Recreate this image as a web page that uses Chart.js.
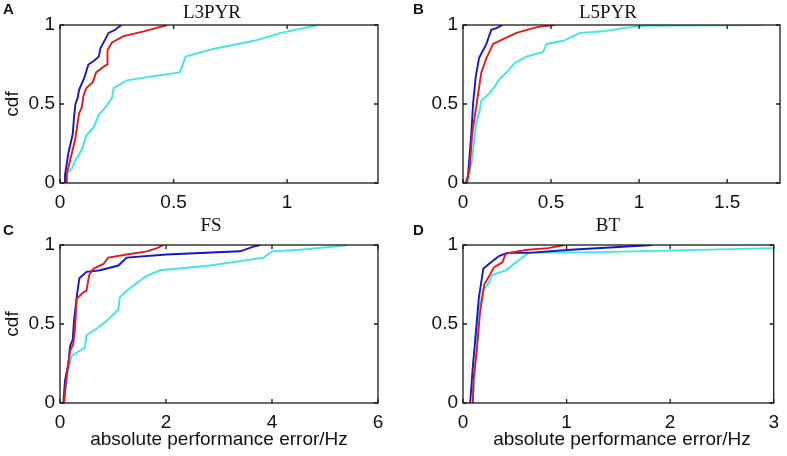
<!DOCTYPE html>
<html>
<head>
<meta charset="utf-8">
<script src="https://cdn.jsdelivr.net/npm/chart.js@4/dist/chart.umd.min.js"></script>
<style>
  body { margin: 0; background: #fff; }
  #wrap { position: relative; width: 787px; height: 456px; overflow: hidden; font-family: "Liberation Sans", Arial, sans-serif; }
  canvas { position: absolute; }
  .letter { position: absolute; font: bold 15px "Liberation Sans", Arial, sans-serif; line-height: 15px; color: #111; }
  .title { position: absolute; width: 200px; text-align: center; font: 19px "Liberation Serif", "Times New Roman", serif; line-height: 22px; color: #111; }
  .ylab { position: absolute; width: 60px; text-align: center; font: 19px "Liberation Sans", Arial, sans-serif; line-height: 22px; transform: rotate(-90deg); color: #111; }
  .xlab { position: absolute; width: 320px; text-align: center; font: 19px "Liberation Sans", Arial, sans-serif; line-height: 22px; color: #111; }
</style>
</head>
<body>
<div id="wrap">
  <canvas id="chartA" width="393" height="228" style="left:0;top:0"></canvas>
  <canvas id="chartB" width="384" height="228" style="left:403px;top:0"></canvas>
  <canvas id="chartC" width="393" height="236" style="left:0;top:220px"></canvas>
  <canvas id="chartD" width="384" height="236" style="left:403px;top:220px"></canvas>

  <div class="letter" style="left:3px;top:1px">A</div>
  <div class="letter" style="left:413px;top:1px">B</div>
  <div class="letter" style="left:3px;top:222px">C</div>
  <div class="letter" style="left:413px;top:222px">D</div>

  <div class="title" style="left:112px;top:1px">L3PYR</div>
  <div class="title" style="left:508px;top:1px">L5PYR</div>
  <div class="title" style="left:111px;top:214px">FS</div>
  <div class="title" style="left:508px;top:214px">BT</div>

  <div class="ylab" style="left:-18px;top:93px">cdf</div>
  <div class="ylab" style="left:-18px;top:313px">cdf</div>

  <div class="xlab" style="left:59px;top:428px">absolute performance error/Hz</div>
  <div class="xlab" style="left:462px;top:428px">absolute performance error/Hz</div>
</div>

<script>
// axis ticks
const yTicks = [0, 0.5, 1];
const xTicksA = [0, 0.5, 1];
const xTicksB = [0, 0.5, 1, 1.5];
const xTicksC = [0, 2, 4, 6];
const xTicksD = [0, 1, 2, 3];

// L3PYR
const aBlueX = [0.019, 0.022, 0.037, 0.056, 0.062, 0.068, 0.078, 0.084, 0.108, 0.125, 0.147, 0.171, 0.177, 0.192, 0.214, 0.243, 0.27];
const aBlueY = [0, 0.05, 0.19, 0.31, 0.42, 0.5, 0.54, 0.59, 0.67, 0.75, 0.77, 0.8, 0.85, 0.89, 0.95, 0.97, 1];
const aRedX = [0.027, 0.03, 0.066, 0.084, 0.096, 0.103, 0.115, 0.145, 0.159, 0.196, 0.208, 0.209, 0.229, 0.28, 0.369, 0.472];
const aRedY = [0, 0.06, 0.27, 0.44, 0.48, 0.55, 0.6, 0.64, 0.7, 0.74, 0.75, 0.84, 0.89, 0.93, 0.96, 1];
const aCyanX = [0.02, 0.022, 0.052, 0.066, 0.096, 0.115, 0.147, 0.17, 0.206, 0.229, 0.236, 0.295, 0.383, 0.527, 0.553, 0.678, 0.855, 0.973, 1.136];
const aCyanY = [0, 0.05, 0.09, 0.14, 0.21, 0.3, 0.35, 0.43, 0.49, 0.54, 0.6, 0.65, 0.67, 0.7, 0.8, 0.85, 0.9, 0.95, 1];

// L5PYR
const bBlueX = [0.015, 0.028, 0.047, 0.057, 0.072, 0.091, 0.114, 0.133, 0.148, 0.161, 0.19, 0.224];
const bBlueY = [0, 0.04, 0.31, 0.5, 0.67, 0.79, 0.84, 0.88, 0.93, 0.97, 0.98, 1];
const bRedX = [0.019, 0.038, 0.053, 0.08, 0.104, 0.133, 0.171, 0.228, 0.304, 0.398, 0.436, 0.522];
const bRedY = [0, 0.1, 0.32, 0.52, 0.7, 0.79, 0.88, 0.91, 0.95, 0.98, 0.99, 1];
const bCyanX = [0.028, 0.053, 0.072, 0.095, 0.104, 0.152, 0.18, 0.209, 0.256, 0.294, 0.36, 0.455, 0.474, 0.569, 0.664, 0.797, 0.911, 1.025, 1.7];
const bCyanY = [0, 0.16, 0.36, 0.46, 0.52, 0.57, 0.61, 0.66, 0.71, 0.76, 0.8, 0.83, 0.88, 0.9, 0.95, 0.96, 0.98, 0.995, 1];

// FS
const cBlueX = [0.063, 0.094, 0.157, 0.19, 0.24, 0.264, 0.315, 0.365, 0.5, 0.756, 1.1, 1.26, 2.01, 3.4, 3.65, 3.78];
const cBlueY = [0, 0.14, 0.25, 0.36, 0.4, 0.52, 0.67, 0.79, 0.83, 0.84, 0.87, 0.92, 0.94, 0.96, 0.99, 1];
const cRedX = [0.076, 0.113, 0.19, 0.25, 0.28, 0.315, 0.44, 0.5, 0.55, 0.63, 0.82, 0.91, 1.26, 1.64, 1.83, 1.95];
const cRedY = [0, 0.14, 0.33, 0.37, 0.46, 0.66, 0.7, 0.71, 0.81, 0.85, 0.88, 0.92, 0.94, 0.96, 0.98, 1];
const cCyanX = [0.076, 0.15, 0.22, 0.315, 0.47, 0.5, 0.69, 0.88, 1.1, 1.13, 1.26, 1.45, 1.61, 1.89, 2.2, 2.83, 3.84, 4.0, 4.53, 5.16, 5.42];
const cCyanY = [0, 0.2, 0.3, 0.32, 0.35, 0.43, 0.47, 0.52, 0.59, 0.67, 0.71, 0.76, 0.8, 0.84, 0.85, 0.87, 0.92, 0.96, 0.97, 0.99, 1];

// BT
const dBlueX = [0.069, 0.095, 0.126, 0.152, 0.196, 0.25, 0.347, 0.426, 0.63, 1.04, 1.83];
const dBlueY = [0, 0.23, 0.46, 0.66, 0.85, 0.88, 0.93, 0.95, 0.95, 0.97, 1];
const dRedX = [0.095, 0.1, 0.133, 0.164, 0.205, 0.25, 0.3, 0.38, 0.41, 0.44, 0.63, 0.82, 0.98];
const dRedY = [0, 0.14, 0.33, 0.57, 0.75, 0.8, 0.86, 0.89, 0.94, 0.95, 0.97, 0.98, 1];
const dCyanX = [0.095, 0.13, 0.15, 0.2, 0.25, 0.28, 0.41, 0.63, 1.33, 3.0];
const dCyanY = [0, 0.35, 0.59, 0.72, 0.76, 0.81, 0.84, 0.95, 0.955, 0.98];

const BLUE = '#1616c8';
const RED = '#e41a1c';
const CYAN = '#3ee6e6';

function pts(xs, ys) {
    return xs.map((x, i) => ({ x: x, y: ys[i] }));
}

// box around plot area + inward tick marks (matlab style)
const boxPlugin = {
    id: 'box',
    afterDraw(chart) {
        const { ctx, chartArea: a, scales } = chart;
        const tl = 4;
        ctx.save();
        ctx.strokeStyle = '#1a1a1a';
        ctx.lineWidth = 1.3;
        ctx.strokeRect(a.left, a.top, a.right - a.left, a.bottom - a.top);
        ctx.beginPath();
        scales.x.ticks.forEach(t => {
            const px = scales.x.getPixelForValue(t.value);
            ctx.moveTo(px, a.bottom); ctx.lineTo(px, a.bottom - tl);
            ctx.moveTo(px, a.top); ctx.lineTo(px, a.top + tl);
        });
        scales.y.ticks.forEach(t => {
            const py = scales.y.getPixelForValue(t.value);
            ctx.moveTo(a.left, py); ctx.lineTo(a.left + tl, py);
            ctx.moveTo(a.right, py); ctx.lineTo(a.right - tl, py);
        });
        ctx.stroke();
        ctx.restore();
    }
};

function makeChart(id, red, blue, cyan, xMax, xTicks, rightPad, xHeight) {
    new Chart(document.getElementById(id), {
        type: 'line',
        data: {
            datasets: [
                { data: red, borderColor: RED },
                { data: blue, borderColor: BLUE },
                { data: cyan, borderColor: CYAN }
            ]
        },
        options: {
            responsive: false,
            animation: false,
            elements: {
                line: { borderWidth: 1.9, tension: 0, fill: false },
                point: { radius: 0 }
            },
            layout: { padding: { left: 0, top: 25, right: rightPad, bottom: 0 } },
            plugins: { legend: { display: false }, tooltip: { enabled: false } },
            scales: {
                x: {
                    type: 'linear',
                    min: 0,
                    max: xMax,
                    grid: { display: false, drawTicks: false },
                    border: { display: false },
                    afterBuildTicks: s => { s.ticks = xTicks.map(v => ({ value: v })); },
                    afterFit: s => { s.height = xHeight; },
                    ticks: {
                        padding: 8,
                        color: '#111',
                        maxRotation: 0,
                        font: { family: '"Liberation Sans", Arial, sans-serif', size: 19 },
                        callback: v => String(v)
                    }
                },
                y: {
                    type: 'linear',
                    min: 0,
                    max: 1,
                    grid: { display: false, drawTicks: false },
                    border: { display: false },
                    afterBuildTicks: s => { s.ticks = yTicks.map(v => ({ value: v })); },
                    afterFit: s => { s.width = 60; },
                    ticks: {
                        padding: 5,
                        color: '#111',
                        font: { family: '"Liberation Sans", Arial, sans-serif', size: 19 },
                        callback: v => String(v)
                    }
                }
            }
        },
        plugins: [boxPlugin]
    });
}

makeChart('chartA', pts(aRedX, aRedY), pts(aBlueX, aBlueY), pts(aCyanX, aCyanY), 1.4, xTicksA, 15, 45);
makeChart('chartB', pts(bRedX, bRedY), pts(bBlueX, bBlueY), pts(bCyanX, bCyanY), 1.8, xTicksB, 7, 45);
makeChart('chartC', pts(cRedX, cRedY), pts(cBlueX, cBlueY), pts(cCyanX, cCyanY), 6, xTicksC, 15, 53);
makeChart('chartD', pts(dRedX, dRedY), pts(dBlueX, dBlueY), pts(dCyanX, dCyanY), 3, xTicksD, 7, 53);
</script>
</body>
</html>
